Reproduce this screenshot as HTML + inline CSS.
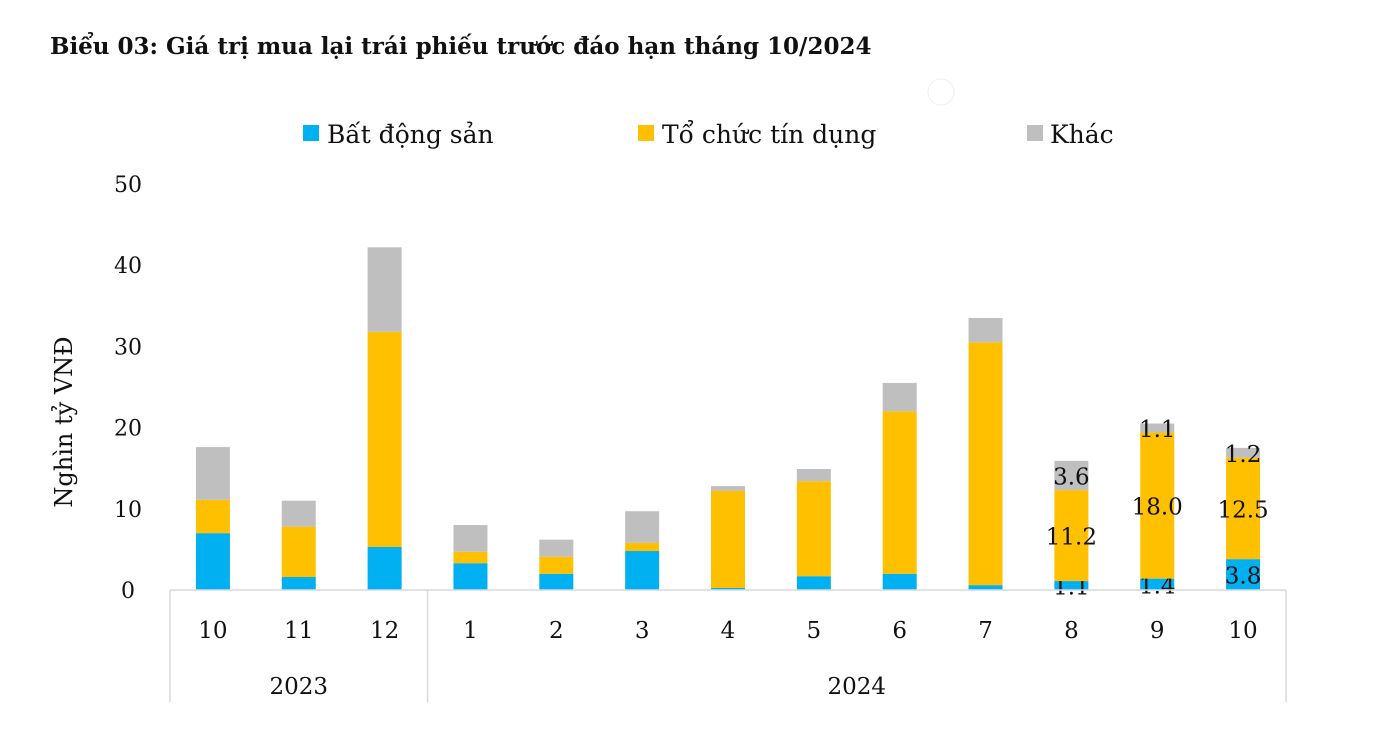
<!DOCTYPE html>
<html><head><meta charset="utf-8"><style>
body{margin:0;background:#fff;width:1388px;height:732px;overflow:hidden}
svg text{font-family:"DejaVu Serif","Liberation Serif",serif;fill:#111}
</style></head><body>
<svg width="1388" height="732" xmlns="http://www.w3.org/2000/svg" id="c">
<text x="50" y="54" font-size="23" font-weight="bold">Biểu 03: Giá trị mua lại trái phiếu trước đáo hạn tháng 10/2024</text>
<circle cx="941" cy="92" r="13" fill="#fff" stroke="#eee"/>
<g>
<rect x="303" y="125" width="16" height="16" fill="#00b0f0"/>
<text x="327" y="143" font-size="25">Bất động sản</text>
<rect x="638" y="125" width="16" height="16" fill="#ffc000"/>
<text x="662" y="143" font-size="25">Tổ chức tín dụng</text>
<rect x="1027" y="125" width="16" height="16" fill="#bfbfbf"/>
<text x="1050" y="143" font-size="25">Khác</text>
</g>
<text transform="translate(72,422) rotate(-90)" text-anchor="middle" font-size="24">Nghìn tỷ VNĐ</text>
<g id="plot"></g>
</svg>
<script>
const months=["10","11","12","1","2","3","4","5","6","7","8","9","10"];
const bds=[7.0,1.6,5.3,3.3,2.0,4.8,0.25,1.7,2.0,0.6,1.1,1.4,3.8];
const tctd=[4.1,6.2,26.5,1.4,2.1,1.0,11.95,11.7,20.0,29.9,11.2,18.0,12.5];
const khac=[6.5,3.2,10.4,3.3,2.1,3.9,0.6,1.5,3.5,3.0,3.6,1.1,1.2];
const showLabels=[false,false,false,false,false,false,false,false,false,false,true,true,true];
const yTicks=[0,10,20,30,40,50];
const years=[{label:"2023",from:0,to:3},{label:"2024",from:3,to:13}];
const NS="http://www.w3.org/2000/svg";
const g=document.getElementById('plot');
const x0=170,x1=1286,y0=590,yTop=184,yMax=50;
const step=(x1-x0)/months.length;
const X=i=>x0+step*(i+0.5);
const Y=v=>y0-(v/yMax)*(y0-yTop);
function mk(t,a){const e=document.createElementNS(NS,t);for(const k in a)e.setAttribute(k,a[k]);g.appendChild(e);return e;}
yTicks.forEach(t=>{const e=mk('text',{x:128,y:Y(t)+8,'text-anchor':'middle','font-size':'22'});e.textContent=t;

});
const series=[[bds,'#00b0f0','bds'],[tctd,'#ffc000','tctd'],[khac,'#bfbfbf','khac']];
const bw=34;
months.forEach((m,i)=>{let base=0;
series.forEach(([arr,col,nm])=>{const v=arr[i];
const r=mk('rect',{x:X(i)-bw/2,y:Y(base+v),width:bw,height:Y(base)-Y(base+v),fill:col});


if(showLabels[i]){const t=mk('text',{x:X(i),y:(Y(base)+Y(base+v))/2+9,'text-anchor':'middle','font-size':'23'});t.textContent=v.toFixed(1);

}
base+=v;});
const t=mk('text',{x:X(i),y:638,'text-anchor':'middle','font-size':'23'});t.textContent=m;

});
const ax=mk('line',{x1:x0,x2:x1,y1:y0,y2:y0,stroke:'#d9d9d9','stroke-width':1.5});


const seps=[0,3,13];
seps.forEach(s=>{const l=mk('line',{x1:x0+step*s,x2:x0+step*s,y1:y0,y2:702,stroke:'#d9d9d9','stroke-width':1.5});

});
years.forEach(y=>{const t=mk('text',{x:x0+step*(y.from+y.to)/2,y:694,'text-anchor':'middle','font-size':'23'});t.textContent=y.label;

});
</script>
</body></html>
